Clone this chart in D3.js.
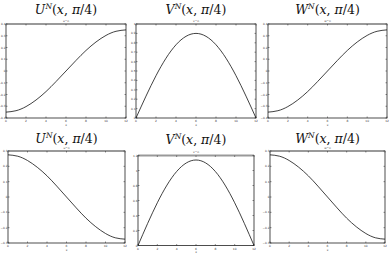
<!DOCTYPE html>
<html lang="en">
<head>
    <meta charset="UTF-8">
    <title>U V W</title>
    <style>
        body { margin: 0; background: #fff; }
        .tick-label { font-family: "DejaVu Sans", sans-serif; font-size: 2.9px; fill: #333; }
        .big-title { font-family: "DejaVu Serif", serif; font-size: 12.5px; font-weight: normal; fill: #111; }
    </style>
</head>
<body>
<script src="https://cdn.jsdelivr.net/npm/d3@7"></script>
<script>
    const width = 391, height = 255;

    // values
    const xValues = [0, 1, 2, 3, 4, 5, 6, 7, 8, 9, 10, 11, 12];
    const uTop    = [-0.35, -0.338, -0.303, -0.247, -0.175, -0.09, 0, 0.09, 0.175, 0.247, 0.303, 0.338, 0.35];
    const vTop    = [0, 0.233, 0.45, 0.636, 0.779, 0.869, 0.9, 0.869, 0.779, 0.636, 0.45, 0.233, 0];
    const wTop    = [-0.35, -0.338, -0.303, -0.247, -0.175, -0.09, 0, 0.09, 0.175, 0.247, 0.303, 0.338, 0.35];
    const uBottom = [0.275, 0.266, 0.238, 0.194, 0.138, 0.071, 0, -0.071, -0.138, -0.194, -0.238, -0.266, -0.275];
    const vBottom = [0, 0.295, 0.57, 0.806, 0.987, 1.101, 1.14, 1.101, 0.987, 0.806, 0.57, 0.295, 0];
    const wBottom = [0.275, 0.266, 0.238, 0.194, 0.138, 0.071, 0, -0.071, -0.138, -0.194, -0.238, -0.266, -0.275];

    const xTicks      = [0, 2, 4, 6, 8, 10, 12];
    const yTicksWide  = [-0.4, -0.3, -0.2, -0.1, 0, 0.1, 0.2, 0.3, 0.4];
    const yTicksUnit  = [0, 0.1, 0.2, 0.3, 0.4, 0.5, 0.6, 0.7, 0.8, 0.9, 1];
    const yTicksSmall = [-0.3, -0.2, -0.1, 0, 0.1, 0.2, 0.3];
    const yTicksTall  = [0, 0.2, 0.4, 0.6, 0.8, 1, 1.2];

    const panels = [
        { name: "U", values: uTop,    ticks: yTicksWide,  left: 6,   right: 126, top: 24,    bottom: 118,   titleY: 14 },
        { name: "V", values: vTop,    ticks: yTicksUnit,  left: 136, right: 256, top: 24,    bottom: 118,   titleY: 14 },
        { name: "W", values: wTop,    ticks: yTicksWide,  left: 268, right: 387, top: 24,    bottom: 118,   titleY: 14 },
        { name: "U", values: uBottom, ticks: yTicksSmall, left: 8,   right: 125, top: 151,   bottom: 243,   titleY: 142.5 },
        { name: "V", values: vBottom, ticks: yTicksTall,  left: 138, right: 254, top: 155.5, bottom: 245.5, titleY: 144 },
        { name: "W", values: wBottom, ticks: yTicksSmall, left: 270, right: 385, top: 151,   bottom: 243,   titleY: 142.5 }
    ];

    const svg = d3.select("body")
                  .append("svg")
                  .attr("width", width)
                  .attr("height", height);

    panels.forEach(function(p) {
        const x = d3.scaleLinear()
                    .domain([0, 12])
                    .range([p.left, p.right]);
        const y = d3.scaleLinear()
                    .domain(d3.extent(p.ticks))
                    .range([p.bottom, p.top]);

        const g = svg.append("g");
        const cx = (p.left + p.right) / 2;

        // big title, latex style
        const t = g.append("text").attr("class", "big-title")
                   .attr("x", cx).attr("y", p.titleY)
                   .attr("text-anchor", "middle");
        t.append("tspan").attr("font-style", "italic").text(p.name);
        t.append("tspan").attr("font-style", "italic").attr("font-size", "7.5px").attr("dy", -5).text("N");
        t.append("tspan").attr("dy", 5).text("(");
        t.append("tspan").attr("font-style", "italic").text("x");
        t.append("tspan").text(", ");
        t.append("tspan").attr("font-style", "italic").text("\u03C0");
        t.append("tspan").text("/4)");

        // small matlab title
        g.append("text").attr("class", "tick-label")
         .attr("x", cx).attr("y", p.top - 2.2)
         .attr("text-anchor", "middle")
         .text(p.name.toLowerCase() + "^n");

        // box
        g.append("rect")
         .attr("x", p.left).attr("y", p.top)
         .attr("width", p.right - p.left).attr("height", p.bottom - p.top)
         .attr("fill", "none").attr("stroke", "#222").attr("stroke-width", 0.8);
        g.append("line")
         .attr("x1", p.left).attr("x2", p.right)
         .attr("y1", p.top).attr("y2", p.top)
         .attr("stroke", "#999").attr("stroke-width", 2.2);

        // ticks (inward, on all four sides)
        xTicks.forEach(function(v) {
            g.append("line").attr("x1", x(v)).attr("x2", x(v))
             .attr("y1", p.bottom).attr("y2", p.bottom - 1.5)
             .attr("stroke", "#222").attr("stroke-width", 0.5);
            g.append("line").attr("x1", x(v)).attr("x2", x(v))
             .attr("y1", p.top).attr("y2", p.top + 1.5)
             .attr("stroke", "#222").attr("stroke-width", 0.5);
            g.append("text").attr("class", "tick-label")
             .attr("x", x(v)).attr("y", p.bottom + 4)
             .attr("text-anchor", "middle")
             .text(v);
        });
        p.ticks.forEach(function(v) {
            g.append("line").attr("x1", p.left).attr("x2", p.left + 1.5)
             .attr("y1", y(v)).attr("y2", y(v))
             .attr("stroke", "#222").attr("stroke-width", 0.5);
            g.append("line").attr("x1", p.right).attr("x2", p.right - 1.5)
             .attr("y1", y(v)).attr("y2", y(v))
             .attr("stroke", "#222").attr("stroke-width", 0.5);
            g.append("text").attr("class", "tick-label")
             .attr("x", p.left - 0.4).attr("y", y(v) + 1)
             .attr("text-anchor", "end")
             .text(d3.format("~g")(+v.toFixed(2)));
        });
        g.append("text").attr("class", "tick-label")
         .attr("x", cx).attr("y", p.bottom + 7.5)
         .attr("text-anchor", "middle")
         .text("x");

        const line = d3.line()
                       .x((d, i) => x(xValues[i]))
                       .y(d => y(d))
                       .curve(d3.curveNatural);
        g.append("path")
         .datum(p.values)
         .attr("d", line)
         .attr("fill", "none")
         .attr("stroke", "#111")
         .attr("stroke-width", 0.8);
    });
</script>
</body>
</html>
